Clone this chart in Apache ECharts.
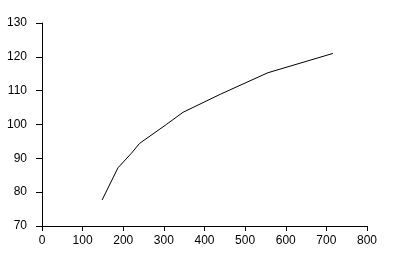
<!DOCTYPE html>
<html>
<head>
<meta charset="utf-8">
<script src="https://cdn.jsdelivr.net/npm/echarts@6/dist/echarts.min.js"></script>
<style>html,body{margin:0;padding:0;background:#fff;}#c{width:394px;height:254px;}</style>
</head>
<body>
<div id="c"></div>
<script>
var xValues = [148, 187, 220, 240, 306, 347, 440, 556, 716];
var yValues = [77.7, 87.2, 91.5, 94.4, 100.0, 103.6, 109.0, 115.3, 121.0];
var xTicks = [0, 100, 200, 300, 400, 500, 600, 700, 800];
var yTicks = [70, 80, 90, 100, 110, 120, 130];

var chart = echarts.init(document.getElementById('c'), null, {renderer: 'canvas'});
var axisCommon = {
  axisLine: {show: true, onZero: false, lineStyle: {color: '#000', width: 1}},
  axisTick: {show: true, inside: false, length: 6, lineStyle: {color: '#000', width: 1}},
  splitLine: {show: false},
  axisLabel: {color: '#000', fontFamily: 'Liberation Sans, Arial, sans-serif', fontSize: 12}
};
chart.setOption({
  animation: false,
  backgroundColor: '#fff',
  grid: {left: 42, right: 27, top: 23, bottom: 28, containLabel: false},
  xAxis: Object.assign({}, axisCommon, {
    type: 'value', min: xTicks[0], max: xTicks[xTicks.length - 1], interval: 100,
    axisTick: {show: true, length: 5, lineStyle: {color: '#000'}},
    axisLabel: Object.assign({}, axisCommon.axisLabel, {margin: 9})
  }),
  yAxis: Object.assign({}, axisCommon, {
    type: 'value', min: yTicks[0], max: yTicks[yTicks.length - 1], interval: 10,
    axisTick: {show: true, length: 6, lineStyle: {color: '#000'}},
    axisLabel: Object.assign({}, axisCommon.axisLabel, {margin: 15})
  }),
  series: [{
    type: 'line',
    data: xValues.map(function (x, i) { return [x, yValues[i]]; }),
    showSymbol: false,
    lineStyle: {color: '#000', width: 1},
    smooth: false
  }]
});
</script>
</body>
</html>
